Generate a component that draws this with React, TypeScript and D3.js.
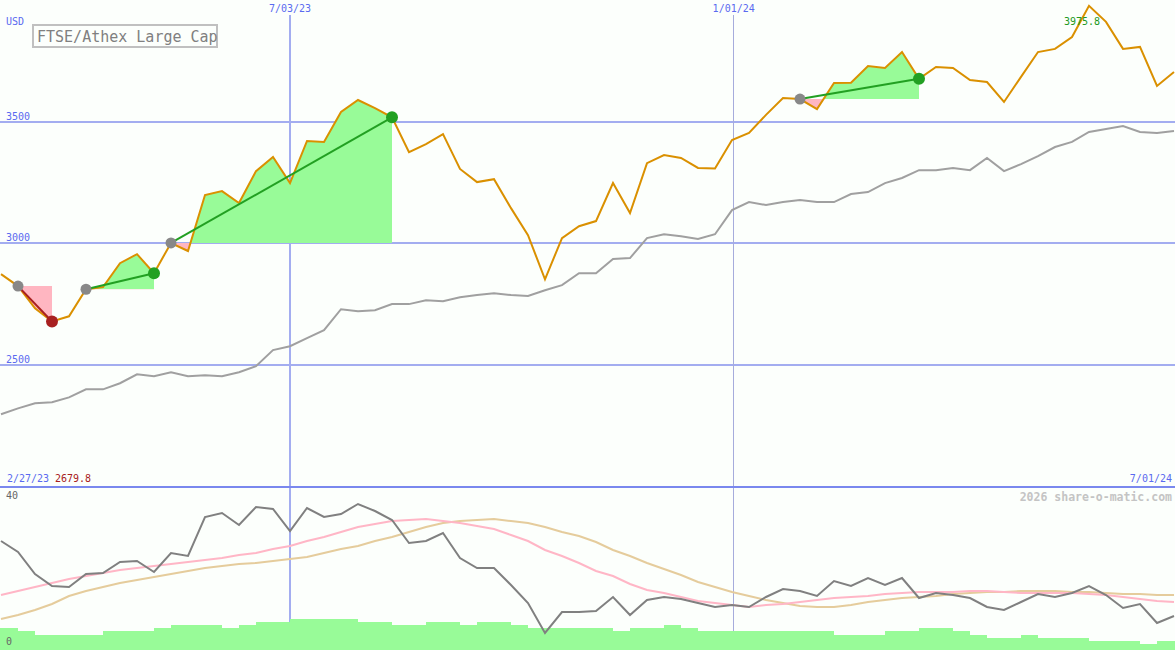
import React from 'react';
import * as d3 from 'd3';

// ---- data (weekly) ----
const prices = [2874, 2825, 2734, 2679.8, 2701, 2812, 2821, 2919, 2956, 2878,
  3002, 2969, 3199, 3215, 3166, 3297, 3355, 3248, 3421, 3417,
  3540, 3589, 3556, 3518, 3375, 3408, 3449, 3306, 3252, 3264,
  3145, 3034, 2853, 3022, 3071, 3092, 3248, 3125, 3330, 3363,
  3351, 3310, 3308, 3425, 3454, 3528, 3597, 3593, 3552, 3659,
  3660, 3729, 3721, 3786, 3676, 3725, 3721, 3671, 3663, 3581,
  3684, 3786, 3799, 3848, 3975.8, 3910, 3799, 3807, 3647, 3704];

const compare = [2299, 2323, 2344, 2348, 2368, 2401, 2401, 2426, 2463, 2455,
  2471, 2455, 2459, 2455, 2471, 2496, 2562, 2578, 2611, 2644,
  2730, 2722, 2726, 2751, 2751, 2767, 2763, 2779, 2788, 2796,
  2788, 2784, 2808, 2829, 2878, 2878, 2936, 2940, 3022, 3038,
  3030, 3018, 3038, 3137, 3170, 3158, 3170, 3178, 3170, 3170,
  3203, 3211, 3248, 3269, 3301, 3301, 3310, 3301, 3351, 3297,
  3326, 3359, 3396, 3417, 3458, 3470, 3482, 3458, 3454, 3462];

const oscillator = [27.25, 24.5, 19, 16, 15.75, 19, 19.25, 22, 22.25, 19.5,
  24.25, 23.5, 33.25, 34.25, 31.25, 35.75, 35.25, 29.75, 35.5, 33.25,
  34, 36.5, 34.75, 32.5, 26.75, 27.25, 29.25, 23, 20.5, 20.5,
  16.25, 11.75, 4.25, 9.5, 9.5, 9.75, 13.25, 8.75, 12.5, 13.25,
  12.75, 11.75, 10.75, 11.25, 10.75, 13.25, 15.25, 14.75, 13.5, 17.25,
  16, 18, 16.25, 18, 13, 14.25, 13.75, 13, 10.75, 10,
  12, 14, 13.25, 14.25, 16, 13.75, 10.5, 11.5, 6.75, 8.5];

const oscFast = [13.75, 14.75, 15.75, 16.75, 17.75, 18.5, 19.25, 20, 20.5, 21,
  21.5, 22, 22.5, 23, 23.75, 24.25, 25.25, 26, 27.25, 28.25,
  29.5, 30.75, 31.5, 32.25, 32.5, 32.75, 32.25, 31.75, 31, 30.25,
  28.75, 27.25, 25, 23.5, 21.75, 19.75, 18.5, 16.5, 15, 14.25,
  13.25, 12.25, 11.75, 11.25, 10.75, 11.25, 11.5, 12, 12.5, 13,
  13.25, 13.5, 14, 14.25, 14.5, 14.5, 14.5, 14.75, 14.75, 14.5,
  14.25, 14.25, 14.25, 14.25, 14, 13.75, 13.25, 12.75, 12.25, 12];

const oscSlow = [7.75, 8.75, 10, 11.5, 13.5, 14.75, 15.75, 16.75, 17.5, 18.25,
  19, 19.75, 20.5, 21, 21.5, 21.75, 22.25, 22.75, 23.25, 24.25,
  25.25, 26, 27.25, 28.25, 29.5, 30.75, 31.75, 32.25, 32.5, 32.75,
  32.25, 31.75, 30.75, 29.5, 28.5, 27, 25, 23.5, 21.75, 20.25,
  18.75, 17, 15.75, 14.5, 13.5, 12.5, 11.75, 11, 10.75, 10.75,
  11.25, 12, 12.5, 13, 13.25, 13.5, 14, 14.25, 14.5, 14.5,
  14.75, 14.75, 14.75, 14.5, 14.5, 14.25, 14, 14, 13.75, 13.75];

const volume = [5.5, 4.75, 3.75, 3.75, 3.75, 3.75, 4.75, 4.75, 4.75, 5.5,
  6.25, 6.25, 6.25, 5.5, 6.25, 7, 7, 7.75, 7.75, 7.75,
  7.75, 7, 7, 6.25, 6.25, 7, 7, 6.25, 7, 7,
  6.25, 5.5, 5.5, 5.5, 5.5, 5.5, 4.75, 5.5, 5.5, 6.25,
  5.5, 4.75, 4.75, 4.75, 4.75, 4.75, 4.75, 4.75, 4.75, 3.75,
  3.75, 3.75, 4.75, 4.75, 5.5, 5.5, 4.75, 3.75, 3, 3,
  3.75, 3, 3, 3, 2.25, 2.25, 2.25, 1.5, 2.25, 2.25];

const priceTicks = [2500, 3000, 3500];
const dateMarkers = [{ label: '7/03/23', index: 17 }, { label: '1/01/24', index: 43.1 }];
const trends = [{ start: 1, end: 3 }, { start: 5, end: 9 }, { start: 10, end: 23 }, { start: 47, end: 54 }];
const title = 'FTSE/Athex Large Cap';
const firstDate = '2/27/23';
const lastDate = '7/01/24';
const currency = 'USD';
const credit = '2026 share-o-matic.com';
const oscTicks = [0, 40];

const W = 1175, H = 650;
const MAIN_BOTTOM = 487;
const FONT = '"DejaVu Sans Mono", monospace';

export default function App() {
  const idx = d3.range(prices.length);
  const x = d3.scaleLinear().domain([0, prices.length - 1]).range([1, 1174]);
  const y = d3.scaleLinear().domain([2000, 3500]).range([MAIN_BOTTOM, 121.7]);
  const yLow = d3.scaleLinear().domain([0, 40]).range([H, 490]);
  const volH = d3.scaleLinear().domain([0, 10]).range([0, 40]);

  const line = (arr: number[], ys: d3.ScaleLinear<number, number>) =>
    d3.line<number>().x((i) => x(i)).y((i) => ys(arr[i]))(idx) || '';

  const minI = d3.minIndex(prices);
  const maxI = d3.maxIndex(prices);

  const blue = '#a3adf0';
  const labelBlue = '#5a6af0';

  return (
    <svg width={W} height={H} style={{ position: 'fixed', left: 0, top: 0 }} fontFamily={FONT}>
      <defs>
        <clipPath id="mainClip"><rect x={0} y={0} width={W} height={MAIN_BOTTOM} /></clipPath>
        {trends.map((t, k) => {
          const by = y(prices[t.start]);
          return (
            <React.Fragment key={k}>
              <clipPath id={`up${k}`}><rect x={0} y={0} width={W} height={by} /></clipPath>
              <clipPath id={`dn${k}`}><rect x={0} y={by} width={W} height={MAIN_BOTTOM - by} /></clipPath>
            </React.Fragment>
          );
        })}
      </defs>
      <rect width={W} height={H} fill="#fcfffc" />

      {/* horizontal grid */}
      {priceTicks.map((t) => (
        <line key={t} x1={0} x2={W} y1={y(t)} y2={y(t)} stroke={blue} strokeWidth={2} shapeRendering="crispEdges" />
      ))}
      {/* vertical markers */}
      {dateMarkers.map((m, k) => (
        <g key={m.label}>
          <line x1={x(m.index)} x2={x(m.index)} y1={15} y2={H} stroke={k === 0 ? blue : '#a6acdc'} strokeWidth={k === 0 ? 2 : 1} shapeRendering="crispEdges" />
          <text x={x(m.index)} y={12} fontSize={10} fill={labelBlue} textAnchor="middle">{m.label}</text>
        </g>
      ))}

      {/* trend fills */}
      <g clipPath="url(#mainClip)">
        {trends.map((t, k) => {
          const seg = d3.range(t.start, t.end + 1);
          const base = prices[t.start];
          const area = d3.area<number>().x((i) => x(i)).y0(y(base)).y1((i) => y(prices[i]))(seg) || '';
          return (
            <g key={k}>
              <path d={area} fill="#98fb98" clipPath={`url(#up${k})`} />
              <path d={area} fill="#ffb6c1" clipPath={`url(#dn${k})`} />
            </g>
          );
        })}
        <path d={line(compare, y)} fill="none" stroke="#a0a0a0" strokeWidth={2} />
        <path d={line(prices, y)} fill="none" stroke="#da9000" strokeWidth={2} />
        {trends.map((t, k) => {
          const up = prices[t.end] >= prices[t.start];
          return (
            <line key={k} x1={x(t.start)} y1={y(prices[t.start])} x2={x(t.end)} y2={y(prices[t.end])}
              stroke={up ? '#22a022' : '#a82020'} strokeWidth={2} />
          );
        })}
        {trends.map((t, k) => {
          const up = prices[t.end] >= prices[t.start];
          return (
            <g key={k}>
              <circle cx={x(t.start)} cy={y(prices[t.start])} r={5.5} fill="#888888" />
              <circle cx={x(t.end)} cy={y(prices[t.end])} r={6} fill={up ? '#22a022' : '#a82020'} />
            </g>
          );
        })}
      </g>

      {/* axis labels main */}
      <text x={6} y={25} fontSize={10} fill={labelBlue}>{currency}</text>
      {priceTicks.map((t) => (
        <text key={t} x={6} y={y(t) - 2} fontSize={10} fill={labelBlue}>{t}</text>
      ))}
      <text x={x(maxI) - 7} y={25} fontSize={10} fill="#229922" textAnchor="middle">{prices[maxI].toFixed(1)}</text>

      {/* title */}
      <rect x={33} y={25} width={184} height={22} fill="#fcfffc" stroke="#c0c0c0" strokeWidth={2} />
      <text x={37} y={42} fontSize={15} fill="#808080">{title}</text>

      {/* bottom axis */}
      <line x1={0} x2={W} y1={MAIN_BOTTOM} y2={MAIN_BOTTOM} stroke="#7a88ee" strokeWidth={2} shapeRendering="crispEdges" />
      <text x={7} y={482} fontSize={10} fill={labelBlue}>{firstDate}</text>
      <text x={55} y={482} fontSize={10} fill="#a82020">{prices[minI].toFixed(1)}</text>
      <text x={1172} y={482} fontSize={10} fill={labelBlue} textAnchor="end">{lastDate}</text>
      <text x={1172} y={501} fontSize={11.5} fontWeight="bold" fill="#c4c4c4" textAnchor="end">{credit}</text>

      {/* lower panel */}
      {idx.map((i) => (
        <rect key={i} x={i === 0 ? 0 : x(i)} y={H - volH(volume[i])} width={i === 0 ? x(1) : 17.1} height={volH(volume[i])} fill="#98fb98" shapeRendering="crispEdges" />
      ))}
      <path d={line(oscSlow, yLow)} fill="none" stroke="#e5cc9c" strokeWidth={2} />
      <path d={line(oscFast, yLow)} fill="none" stroke="#ffb6c6" strokeWidth={2} />
      <path d={line(oscillator, yLow)} fill="none" stroke="#808080" strokeWidth={2} />
      <text x={6} y={499} fontSize={10} fill="#666666">{oscTicks[1]}</text>
      <text x={6} y={645} fontSize={10} fill="#666666">{oscTicks[0]}</text>
    </svg>
  );
}
